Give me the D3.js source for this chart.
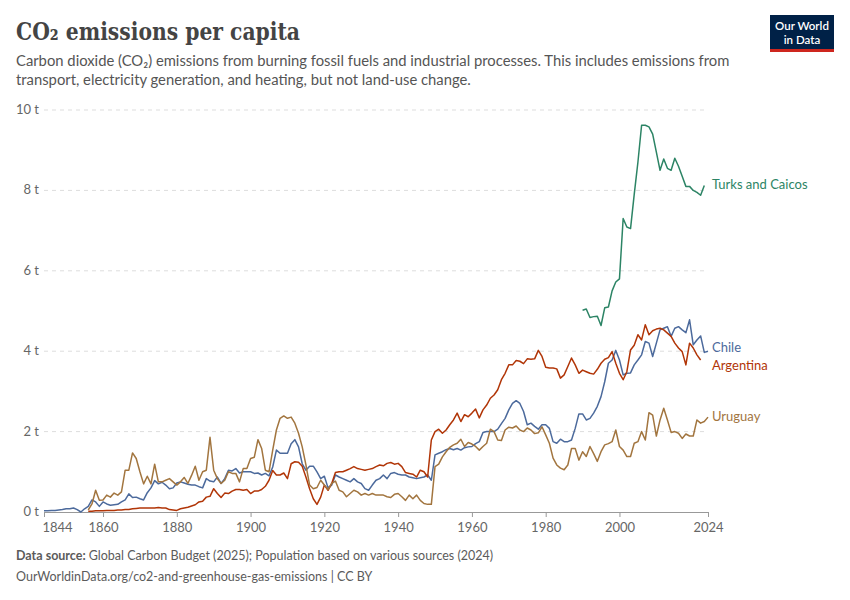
<!DOCTYPE html>
<html>
<head>
<meta charset="utf-8">
<script src="https://cdn.jsdelivr.net/npm/d3@7"></script>
<style>
  body { margin: 0; background: #fff; font-family: Lato, "Noto Sans", sans-serif; }
</style>
</head>
<body>
<svg id="chart" width="850" height="600"></svg>
<script>
// Data (tonnes CO2 per person), each series starts at its own year
const chileStart = 1844;
const chile = [0.03,0.03,0.04,0.04,0.05,0.06,0.08,0.08,0.1,0.06,0,0.08,0.14,0.3,0.25,0.14,0.25,0.2,0.17,0.18,0.19,0.25,0.3,0.45,0.36,0.37,0.33,0.3,0.48,0.6,0.78,0.7,0.74,0.67,0.58,0.6,0.72,0.75,0.72,0.69,0.67,0.67,0.63,0.6,0.83,0.77,0.75,0.87,0.71,0.83,1.04,1.02,1.08,0.97,1.0,1.0,1.0,0.96,0.97,0.92,0.96,0.9,1.12,1.54,1.46,1.46,1.46,1.7,1.8,1.62,1.2,1.04,1.14,1.14,1.0,0.83,0.89,0.6,0.67,0.92,0.87,0.83,0.79,0.75,0.83,0.75,0.71,0.58,0.54,0.67,0.79,0.83,0.92,0.83,0.96,0.98,0.94,0.92,0.92,0.87,0.85,0.83,0.85,0.87,0.92,0.79,1.42,1.46,1.5,1.55,1.58,1.55,1.58,1.54,1.6,1.62,1.63,1.7,1.75,1.98,2.0,2.0,2.0,2.06,2.2,2.33,2.54,2.7,2.77,2.7,2.5,2.17,2.21,2.13,2.06,2.17,2.17,2.08,1.75,1.71,1.81,1.75,1.75,1.79,2.08,2.44,2.44,2.29,2.33,2.46,2.63,2.87,3.24,3.7,3.78,4.02,3.78,3.41,3.45,3.46,3.66,3.78,3.91,4.24,4.2,3.87,4.2,4.53,4.57,4.61,4.37,4.57,4.61,4.53,4.46,4.78,4.16,4.28,4.38,3.97,4.0];
const argStart = 1856;
const argentina = [0.02,0.02,0.03,0.03,0.03,0.04,0.04,0.04,0.05,0.05,0.06,0.06,0.08,0.09,0.1,0.1,0.1,0.1,0.1,0.11,0.1,0.1,0.06,0.05,0.04,0.08,0.1,0.12,0.15,0.18,0.25,0.27,0.37,0.39,0.58,0.46,0.36,0.47,0.46,0.52,0.56,0.56,0.54,0.56,0.46,0.52,0.52,0.56,0.64,0.79,1.03,0.92,0.92,0.97,0.83,1.2,1.25,1.24,1.14,0.87,0.58,0.33,0.19,0.37,0.67,0.54,0.71,0.98,1.0,1.0,1.04,1.08,1.13,1.08,1.06,1.04,1.06,1.08,1.13,1.17,1.15,1.21,1.23,1.19,1.21,1.13,0.98,0.96,0.94,0.87,1.04,1.0,0.87,1.79,2.0,2.06,1.96,2.04,2.17,2.29,2.46,2.25,2.42,2.37,2.46,2.56,2.34,2.54,2.66,2.83,2.91,3.04,3.29,3.45,3.66,3.66,3.77,3.75,3.69,3.81,3.8,3.81,4.02,3.87,3.6,3.58,3.58,3.56,3.33,3.41,3.62,3.83,3.66,3.45,3.53,3.49,3.45,3.43,3.55,3.7,3.8,3.84,3.99,3.7,3.45,3.29,3.49,4.03,4.15,4.41,4.28,4.66,4.41,4.51,4.55,4.57,4.53,4.45,4.37,4.2,4.08,3.99,3.66,4.2,4.08,3.91,3.78];
const uruStart = 1856;
const uruguay = [0.05,0.2,0.54,0.29,0.3,0.42,0.37,0.47,0.42,0.5,1.04,1.04,1.47,1.33,1.0,0.7,0.89,0.7,1.19,0.75,0.75,0.79,0.83,0.75,0.67,0.75,0.86,0.71,0.91,1.14,0.79,1.0,1.04,1.86,1.04,0.83,0.71,0.79,1.0,0.96,0.96,0.75,1.08,1.08,1.33,1.36,1.8,1.58,1.04,1.0,1.54,2.04,2.33,2.39,2.33,2.36,2.21,1.96,1.62,1.17,0.67,0.58,0.61,0.79,0.67,0.56,0.71,0.77,0.54,0.5,0.38,0.46,0.54,0.5,0.42,0.46,0.42,0.46,0.42,0.42,0.42,0.38,0.36,0.44,0.46,0.38,0.29,0.42,0.33,0.42,0.29,0.21,0.19,0.19,1.13,1.19,1.37,1.5,1.61,1.67,1.71,1.81,1.63,1.73,1.69,1.63,1.54,1.63,1.71,2.06,2.0,1.79,1.78,2.04,2.11,2.09,2.14,2.04,2.0,2.09,2.04,1.95,1.97,2.12,1.92,1.71,1.34,1.17,1.09,1.05,1.17,1.58,1.58,1.29,1.5,1.38,1.63,1.45,1.26,1.5,1.67,1.7,1.75,2.04,1.63,1.54,1.38,1.38,1.71,1.75,2.0,1.79,2.47,2.41,1.89,2.29,2.58,2.29,1.98,2.0,1.96,1.83,1.94,1.89,1.89,2.29,2.21,2.25,2.36];
const tciStart = 1990;
const turksCaicos = [5.02,5.05,4.84,4.86,4.87,4.64,5.08,5.1,5.5,5.72,5.8,7.3,7.09,7.05,7.9,8.7,9.62,9.62,9.58,9.4,8.95,8.5,8.78,8.55,8.5,8.8,8.6,8.35,8.1,8.1,8.0,7.95,7.88,8.12];

const yTicks = [0, 2, 4, 6, 8, 10];
const xTicks = [1844, 1860, 1880, 1900, 1920, 1940, 1960, 1980, 2000, 2024];

const series = [
  { name: "Turks and Caicos", start: tciStart, values: turksCaicos, color: "#2c8465", labelY: 185 },
  { name: "Chile", start: chileStart, values: chile, color: "#4c6a9c", labelY: 348 },
  { name: "Argentina", start: argStart, values: argentina, color: "#b13507", labelY: 366 },
  { name: "Uruguay", start: uruStart, values: uruguay, color: "#a2753f", labelY: 417 }
];

const svg = d3.select("#chart");
const x = d3.scaleLinear().domain([1844, 2024]).range([44, 708]);
const y = d3.scaleLinear().domain([0, 10]).range([512, 110]);

// Header
svg.append("text").attr("x", 16).attr("y", 40)
  .attr("font-family", "'DejaVu Serif', 'Liberation Serif', serif")
  .attr("font-size", 25).attr("font-weight", 600).attr("fill", "#444")
  .attr("textLength", 284).attr("lengthAdjust", "spacingAndGlyphs")
  .text("CO₂ emissions per capita");
const sub = ["Carbon dioxide (CO₂) emissions from burning fossil fuels and industrial processes. This includes emissions from",
             "transport, electricity generation, and heating, but not land-use change."];
sub.forEach((s, i) => svg.append("text").attr("x", 16).attr("y", 66 + i * 19)
  .attr("font-size", 14.8).attr("fill", "#555").text(s));

// Logo
svg.append("rect").attr("x", 770).attr("y", 15).attr("width", 64).attr("height", 37).attr("fill", "#002147");
svg.append("rect").attr("x", 770).attr("y", 49).attr("width", 64).attr("height", 3).attr("fill", "#ce261e");
svg.append("text").attr("x", 802).attr("y", 30).attr("text-anchor", "middle").attr("fill", "#fff")
  .attr("font-size", 11.5).attr("font-weight", 600).text("Our World");
svg.append("text").attr("x", 802).attr("y", 44).attr("text-anchor", "middle").attr("fill", "#fff")
  .attr("font-size", 11.5).attr("font-weight", 600).text("in Data");

// Grid + y labels
const yAxis = svg.append("g");
yTicks.forEach(t => {
  if (t > 0) yAxis.append("line").attr("x1", 44).attr("x2", 708).attr("y1", y(t)).attr("y2", y(t))
    .attr("stroke", "#ddd").attr("stroke-dasharray", "4,4");
  yAxis.append("text").attr("x", 39).attr("y", y(t) + 4).attr("text-anchor", "end")
    .attr("font-size", 13).attr("fill", "#666").text(t + " t");
});

// X axis
const xAxis = svg.append("g").attr("transform", "translate(0,512)")
  .call(d3.axisBottom(x).tickValues(xTicks).tickFormat(d3.format("d")).tickSize(5).tickSizeOuter(0));
xAxis.select(".domain").attr("stroke", "#999");
xAxis.selectAll(".tick line").attr("stroke", "#999");
xAxis.selectAll("text").attr("font-family", "Lato, sans-serif").attr("font-size", 13).attr("fill", "#666").attr("dy", "0.9em");
xAxis.select(".tick text").attr("text-anchor", "start").attr("dx", "-2");

// Lines
const line = d3.line().x(d => x(d[0])).y(d => y(d[1]));
series.forEach(s => {
  const pts = s.values.map((v, i) => [s.start + i, v]);
  svg.append("path").datum(pts).attr("d", line).attr("fill", "none")
    .attr("stroke", s.color).attr("stroke-width", 1.5).attr("stroke-linejoin", "round");
  svg.append("text").attr("x", 712).attr("y", s.labelY + 4).attr("font-size", 13)
    .attr("fill", s.color).text(s.name);
});

// Footer
const f1 = svg.append("text").attr("x", 16).attr("y", 560).attr("font-size", 12.5).attr("fill", "#5b5b5b");
f1.append("tspan").attr("font-weight", 700).text("Data source: ");
f1.append("tspan").text("Global Carbon Budget (2025); Population based on various sources (2024)");
svg.append("text").attr("x", 16).attr("y", 581).attr("font-size", 12.5).attr("fill", "#5b5b5b")
  .text("OurWorldinData.org/co2-and-greenhouse-gas-emissions | CC BY");
</script>
</body>
</html>
